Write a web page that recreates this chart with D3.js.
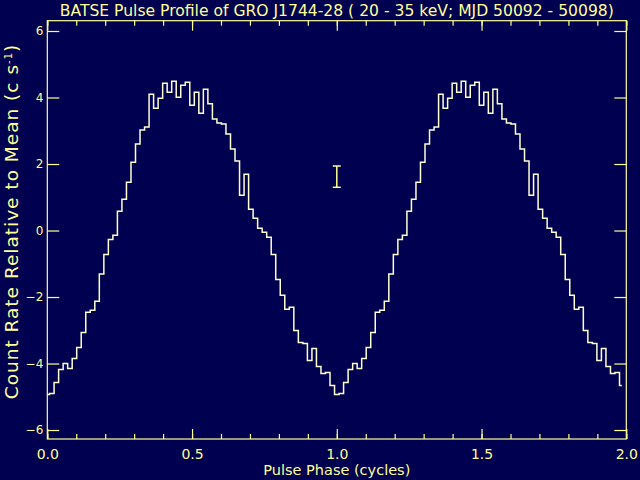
<!DOCTYPE html>
<html>
<head>
<meta charset="utf-8">
<script src="https://cdn.jsdelivr.net/npm/d3@7"></script>
<style>
  html, body { margin: 0; padding: 0; background: #000050; }
  svg { display: block; }
</style>
</head>
<body>
<svg id="chart" width="640" height="480"></svg>
<script>
// ---- data (one pulse cycle, 64 phase bins; plotted twice as is customary) ----
const binsPerCycle = 64;
const countRate = [
  -4.93, -4.90, -4.57, -4.18, -4.00, -4.15, -3.85, -3.52,
  -3.07, -2.46, -2.40, -2.13, -1.31, -0.72, -0.27, -0.14,
   0.58,  0.94,  1.45,  2.05,  2.60,  3.02,  3.11,  4.10,
   3.68,  3.98,  4.43,  4.16,  4.49,  4.01,  4.37,  4.46,
   3.77,  4.16,  3.53,  4.25,  3.81,  3.35,  3.23,  3.20,
   2.90,  2.45,  2.09,  1.06,  1.69,  0.64,  0.37,  0.07,
  -0.05, -0.20, -0.72, -1.47, -1.95, -2.37, -2.31, -3.01,
  -3.37, -3.40, -3.91, -3.55, -4.09, -4.30, -4.27, -4.66
];
const cycles = [0, 1];
const errorBar = { phase: 1.0, center: 1.62, halfWidth: 0.32 };
const xMajorTicks = [0, 0.5, 1.0, 1.5, 2.0];
const xMinorTicks = d3.range(0, 2.0001, 0.1).map(d => +d.toFixed(1));
const yTicks = [-6, -4, -2, 0, 2, 4, 6];
const titleText = "BATSE Pulse Profile of GRO J1744-28 ( 20 - 35 keV; MJD 50092 - 50098)";
const xLabel = "Pulse Phase (cycles)";
const yLabelMain = "Count Rate Relative to Mean (c s";
const yLabelSup = "-1";

// ---- layout ----
const svg = d3.select("#chart");
const W = 640, H = 480;
const mLeft = 47.3, mRight = 626.3, mTop = 20.7, mBottom = 439;
const AXIS = "#ffff96";
const LINE = "#ffffd2";
const FONT = "'DejaVu Sans', 'Liberation Sans', sans-serif";

svg.append("rect").attr("width", W).attr("height", H).attr("fill", "#000050");

const x = d3.scaleLinear().domain([0, 2]).range([mLeft, mRight]);
const y = d3.scaleLinear().domain([-6.27, 6.31]).range([mBottom, mTop]);

// ---- data line ----
const points = [];
cycles.forEach(c => {
  countRate.forEach((v, i) => points.push({ phase: c + i / binsPerCycle, value: v }));
});
const line = d3.line()
  .x(d => x(d.phase))
  .y(d => y(d.value))
  .curve(d3.curveStep);
svg.append("path")
  .datum(points)
  .attr("fill", "none")
  .attr("stroke", LINE)
  .attr("stroke-width", 1.5)
  .attr("d", line);

// ---- error bar ----
const eb = svg.append("g").attr("stroke", AXIS).attr("stroke-width", 1.5);
const ex = x(errorBar.phase);
eb.append("line").attr("x1", ex).attr("x2", ex)
  .attr("y1", y(errorBar.center + errorBar.halfWidth))
  .attr("y2", y(errorBar.center - errorBar.halfWidth));
[errorBar.center + errorBar.halfWidth, errorBar.center - errorBar.halfWidth].forEach(v => {
  eb.append("line").attr("x1", ex - 4).attr("x2", ex + 4)
    .attr("y1", y(v)).attr("y2", y(v));
});

// ---- axes ----
function styleAxis(g) {
  g.select(".domain").remove();
  g.selectAll(".tick line").attr("stroke", AXIS).attr("stroke-width", 1.2);
  g.selectAll(".tick text").attr("fill", AXIS).attr("font-family", FONT);
}

svg.append("g").attr("transform", `translate(0,${mBottom})`)
  .call(d3.axisBottom(x).tickValues(xMajorTicks).tickSize(-10).tickPadding(10)
        .tickFormat(d3.format(".1f")))
  .call(styleAxis)
  .call(g => g.selectAll(".tick text").attr("font-size", 14));
svg.append("g").attr("transform", `translate(0,${mBottom})`)
  .call(d3.axisBottom(x).tickValues(xMinorTicks).tickSize(-5).tickFormat(""))
  .call(styleAxis);
svg.append("g").attr("transform", `translate(0,${mTop})`)
  .call(d3.axisTop(x).tickValues(xMajorTicks).tickSize(-10).tickFormat(""))
  .call(styleAxis);
svg.append("g").attr("transform", `translate(0,${mTop})`)
  .call(d3.axisTop(x).tickValues(xMinorTicks).tickSize(-5).tickFormat(""))
  .call(styleAxis);
svg.append("g").attr("transform", `translate(${mLeft},0)`)
  .call(d3.axisLeft(y).tickValues(yTicks).tickSize(-12).tickPadding(4)
        .tickFormat(d3.format("d")))
  .call(styleAxis)
  .call(g => g.selectAll(".tick text").attr("font-size", 12));
svg.append("g").attr("transform", `translate(${mRight},0)`)
  .call(d3.axisRight(y).tickValues(yTicks).tickSize(-12).tickFormat(""))
  .call(styleAxis);

svg.append("rect")
  .attr("x", mLeft).attr("y", mTop)
  .attr("width", mRight - mLeft).attr("height", mBottom - mTop)
  .attr("fill", "none").attr("stroke", AXIS).attr("stroke-width", 1.2);

// ---- text ----
svg.append("text")
  .attr("x", (mLeft + mRight) / 2).attr("y", 15.5)
  .attr("text-anchor", "middle")
  .attr("fill", AXIS).attr("font-family", FONT).attr("font-size", 15)
  .attr("textLength", 554).attr("lengthAdjust", "spacingAndGlyphs")
  .text(titleText);

svg.append("text")
  .attr("x", (mLeft + mRight) / 2).attr("y", 475)
  .attr("text-anchor", "middle")
  .attr("fill", AXIS).attr("font-family", FONT).attr("font-size", 14)
  .attr("textLength", 147).attr("lengthAdjust", "spacingAndGlyphs")
  .text(xLabel);

const yl = svg.append("text")
  .attr("transform", `translate(18,221.5) rotate(-90)`)
  .attr("text-anchor", "middle")
  .attr("letter-spacing", 1)
  .attr("fill", AXIS).attr("font-family", FONT).attr("font-size", 18.5);
yl.append("tspan").text(yLabelMain);
yl.append("tspan").attr("font-size", 10).attr("dy", -6).text(yLabelSup);
yl.append("tspan").attr("dy", 6).text(")");
</script>
</body>
</html>
